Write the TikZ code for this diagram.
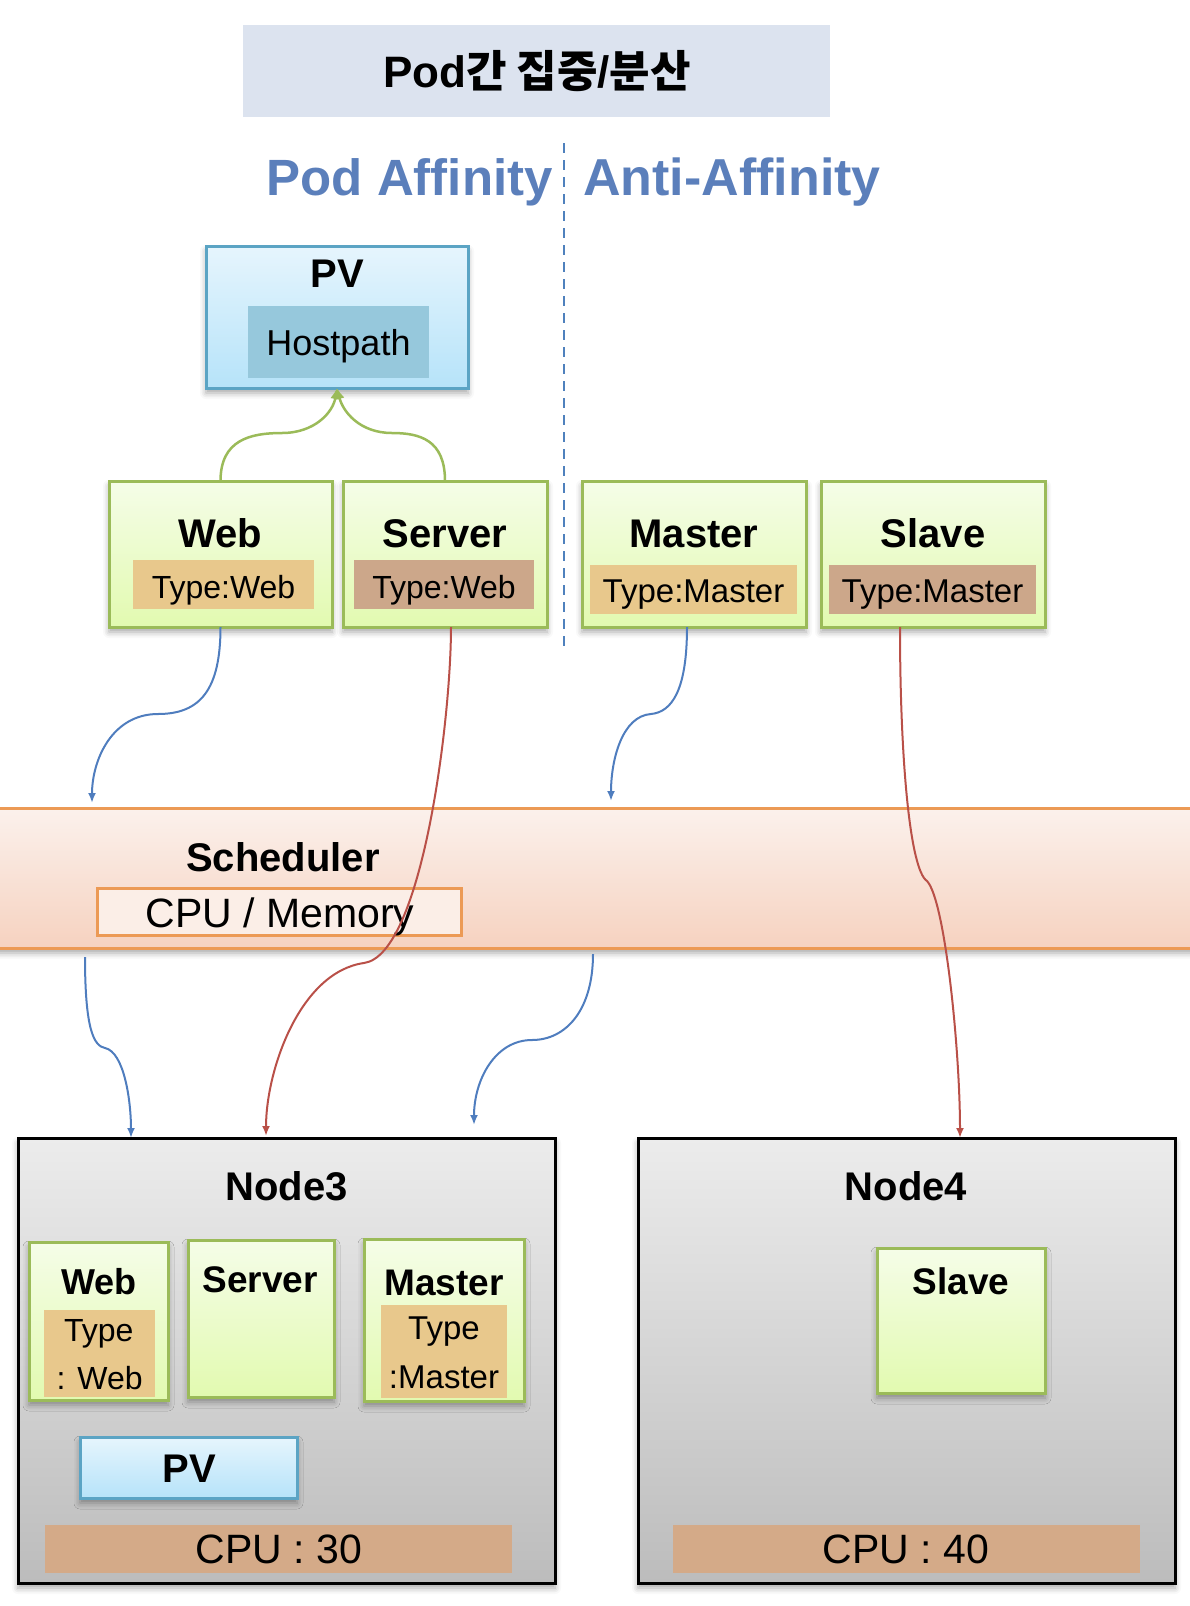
\documentclass[tikz,border=0pt]{standalone}
\usepackage{fontspec}
\setmainfont{Liberation Sans}
\newfontfamily\krfont{Noto Sans CJK KR}
\usetikzlibrary{arrows.meta,shadows.blur}
\newcommand{\fsz}[1]{\fontsize{#1}{#1}\selectfont}
\definecolor{titlebg}{RGB}{220,227,239}
\definecolor{affblue}{RGB}{91,127,187}
\definecolor{dashblue}{RGB}{79,129,189}
\definecolor{gtop}{RGB}{245,253,232}
\definecolor{gbot}{RGB}{226,250,176}
\definecolor{gborder}{RGB}{155,187,89}
\definecolor{typetan}{RGB}{232,200,140}
\definecolor{typebrown}{RGB}{204,167,138}
\definecolor{pvtop}{RGB}{230,245,253}
\definecolor{pvbot}{RGB}{182,227,249}
\definecolor{pvborder}{RGB}{91,164,196}
\definecolor{hostfill}{RGB}{150,200,220}
\definecolor{schtop}{RGB}{251,241,236}
\definecolor{schbot}{RGB}{246,210,192}
\definecolor{schline}{RGB}{236,154,85}
\definecolor{cpumem}{RGB}{251,238,231}
\definecolor{ntop}{RGB}{236,236,236}
\definecolor{nbot}{RGB}{188,188,188}
\definecolor{cpufill}{RGB}{212,170,136}
\definecolor{arrblue}{RGB}{79,125,190}
\definecolor{arrred}{RGB}{185,80,72}
\definecolor{arrgreen}{RGB}{155,187,89}
\tikzset{
  myshadow/.style={blur shadow={shadow xshift=0pt, shadow yshift=-5pt, shadow blur radius=6pt, shadow opacity=35}},
  greenbox/.style={draw=gborder, line width=3pt, top color=gtop, bottom color=gbot, inner sep=0pt, outer sep=0pt, myshadow},
  pvbox/.style={draw=pvborder, line width=3pt, top color=pvtop, bottom color=pvbot, inner sep=0pt, outer sep=0pt, myshadow},
  nodebox/.style={draw=black, line width=3pt, top color=ntop, bottom color=nbot, inner sep=0pt, outer sep=0pt, myshadow},
  tagbox/.style={inner sep=0pt, outer sep=0pt},
  lbl/.style={inner sep=0pt, anchor=base},
  boldlbl/.style={lbl, font=\bfseries\fsz{40}},
  bluearr/.style={draw=arrblue, line width=2pt, -{Latex[length=10pt,width=8pt]}},
  redarr/.style={draw=arrred, line width=2pt, -{Latex[length=10pt,width=8pt]}},
  greenarr/.style={draw=arrgreen, line width=2.5pt, -{Latex[length=11pt,width=10pt]}},
}
\begin{document}
\begin{tikzpicture}[x=1pt,y=-1pt]
\useasboundingbox (0,0) rectangle (1190,1606);

% title
\node[fill=titlebg, minimum width=587pt, minimum height=92pt, inner sep=0pt] (title) at (536.5,71) {};
\node[lbl, font=\bfseries\fsz{44}] (titletext) at (537,87) {Pod{\krfont\bfseries 간 집중}/{\krfont\bfseries 분산}};

% headings
\node[inner sep=0pt, anchor=base east, font=\bfseries\fsz{51}, text=affblue] (aff) at (553,195) {Pod Affinity};
\node[inner sep=0pt, anchor=base west, font=\bfseries\fsz{52}, text=affblue] (anti) at (583,195) {Anti-Affinity};
\coordinate (divtop) at (564,143);
\coordinate (divbot) at (564,647);
\draw[dashblue, line width=2.5pt, dash pattern=on 10pt off 7pt] (divtop) -- (divbot);

% PV top
\node[pvbox, minimum width=262pt, minimum height=142pt] (pv) at (337,317) {};
\node[boldlbl] (pvt) at (337,287) {PV};
\node[tagbox, fill=hostfill, minimum width=181pt, minimum height=72pt] (host) at (338.5,342) {};
\node[lbl, font=\fsz{36}] (hostt) at (338.5,355) {Hostpath};

% top row pods
\node[greenbox, minimum width=223pt, minimum height=146pt] (web) at (220.5,554) {};
\node[boldlbl] (webt) at (220.5,547) {Web};
\node[tagbox, fill=typetan, minimum width=181pt, minimum height=49pt] (webtag) at (223.5,584.5) {};
\node[lbl, font=\fsz{32}] (webtagt) at (223.5,598) {Type:Web};

\node[greenbox, minimum width=204pt, minimum height=146pt] (server) at (445,554) {};
\node[boldlbl] (servert) at (445,547) {Server};
\node[tagbox, fill=typebrown, minimum width=180pt, minimum height=49pt] (servertag) at (444,584.5) {};
\node[lbl, font=\fsz{32}] (servertagt) at (444,598) {Type:Web};

\node[greenbox, minimum width=224pt, minimum height=146pt] (master) at (694,554) {};
\node[boldlbl] (mastert) at (694,547) {Master};
\node[tagbox, fill=typetan, minimum width=207pt, minimum height=49pt] (mastertag) at (693.5,589.5) {};
\node[lbl, font=\fsz{33}] (mastertagt) at (693.5,602) {Type:Master};

\node[greenbox, minimum width=224pt, minimum height=146pt] (slave) at (933,554) {};
\node[boldlbl] (slavet) at (933,547) {Slave};
\node[tagbox, fill=typebrown, minimum width=207pt, minimum height=49pt] (slavetag) at (932.5,589.5) {};
\node[lbl, font=\fsz{33}] (slavetagt) at (932.5,602) {Type:Master};

% green arrows to PV
\draw[greenarr] (web.north) .. controls (220.5,440) and (250,433) .. (282,433) .. controls (315,433) and (333,412) .. (pv.south);
\draw[greenarr] (server.north) .. controls (445,440) and (420,433) .. (392,433) .. controls (360,433) and (343,412) .. (pv.south);

% scheduler band
\node[draw=schline, line width=3pt, top color=schtop, bottom color=schbot, minimum width=1220pt, minimum height=140pt, inner sep=0pt, myshadow] (sched) at (595,878) {};
\node[lbl, font=\bfseries\fsz{40}] (schedt) at (283,871) {Scheduler};
\node[draw=schline, line width=3pt, fill=cpumem, minimum width=364pt, minimum height=47pt, inner sep=0pt] (cpumembox) at (279,911.5) {};
\node[lbl, font=\fsz{41}] (cpumemt) at (280,927) {CPU / Memory};

% Node3
\node[nodebox, minimum width=537pt, minimum height=445pt] (node3) at (286.5,1360.5) {};
\node[boldlbl] (node3t) at (286.5,1200) {Node3};
\node[greenbox, minimum width=139pt, minimum height=158pt] (web3) at (98.5,1321) {};
\node[lbl, font=\bfseries\fsz{36}] (web3t) at (98.8,1294) {Web};
\node[tagbox, fill=typetan, minimum width=111pt, minimum height=87pt] (web3tag) at (99.5,1353.5) {};
\node[lbl, font=\fsz{32}] (web3tag1) at (98.8,1341) {Type};
\node[lbl, font=\fsz{32}] (web3tag2) at (99.6,1389) {: Web};

\node[greenbox, minimum width=146pt, minimum height=157pt] (server3) at (261,1318.5) {};
\node[lbl, font=\bfseries\fsz{37}] (server3t) at (260,1292) {Server};

\node[greenbox, minimum width=160pt, minimum height=162pt] (master3) at (444,1320) {};
\node[lbl, font=\bfseries\fsz{37}] (master3t) at (444,1295) {Master};
\node[tagbox, fill=typetan, minimum width=126pt, minimum height=93pt] (master3tag) at (444,1351.5) {};
\node[lbl, font=\fsz{33}] (master3tag1) at (444,1339) {Type};
\node[lbl, font=\fsz{33}] (master3tag2) at (444,1388) {:Master};

\node[pvbox, minimum width=217pt, minimum height=61pt] (pv3) at (188.5,1467.5) {};
\node[boldlbl] (pv3t) at (189.5,1482) {PV};

\node[tagbox, fill=cpufill, minimum width=467pt, minimum height=48pt] (cpu3) at (278.5,1549) {};
\node[lbl, font=\fsz{41}] (cpu3t) at (279,1563) {CPU : 30};

% Node4
\node[nodebox, minimum width=537pt, minimum height=445pt] (node4) at (906.5,1360.5) {};
\node[boldlbl] (node4t) at (906,1200) {Node4};
\node[greenbox, minimum width=168pt, minimum height=145pt] (slave4) at (961,1320.5) {};
\node[lbl, font=\bfseries\fsz{37}] (slave4t) at (961,1294) {Slave};
\node[tagbox, fill=cpufill, minimum width=467pt, minimum height=48pt] (cpu4) at (906.5,1549) {};
\node[lbl, font=\fsz{41}] (cpu4t) at (906,1563) {CPU : 40};

% connector ends
\coordinate (a1e) at (92,803);
\coordinate (a2e) at (611,801);
\coordinate (a3s) at (85,957);
\coordinate (a3e) at (131,1138);
\coordinate (a4s) at (593,954);
\coordinate (a4e) at (474,1125);
\coordinate (a5e) at (266,1136);
\coordinate (a6e) at (960,1138);

% blue arrows
\draw[bluearr] (web.south) .. controls (220.5,690) and (200,714) .. (158,714) .. controls (112,714) and (92,760) .. (a1e);
\draw[bluearr] ([xshift=-7pt]master.south) .. controls (687,690) and (672,712) .. (651,714) .. controls (622,716) and (611,760) .. (a2e);
\draw[bluearr] (a3s) .. controls (85,1030) and (94,1046) .. (105,1048) .. controls (124,1052) and (131,1100) .. (a3e);
\draw[bluearr] (a4s) .. controls (593,1010) and (566,1040) .. (532,1040) .. controls (495,1040) and (474,1080) .. (a4e);

% red arrows
\draw[redarr] ([xshift=6pt]server.south) .. controls (451,720) and (422,955) .. (364,963) .. controls (300,972) and (266,1070) .. (a5e);
\draw[redarr] ([xshift=-33pt]slave.south) .. controls (900,760) and (910,870) .. (927,881) .. controls (945,900) and (960,1050) .. (a6e);
\end{tikzpicture}
\end{document}
